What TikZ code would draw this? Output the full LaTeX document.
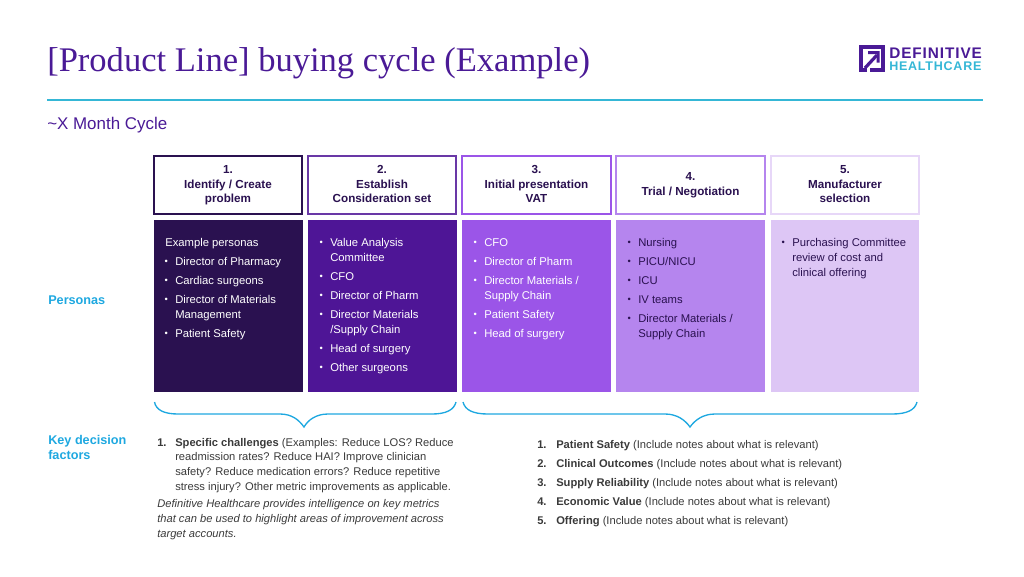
\documentclass[tikz,border=0pt]{standalone}
\usepackage{fontspec}
\setmainfont{Liberation Sans}
\newfontfamily\titlefont{Liberation Serif}
\newfontfamily\logofont[LetterSpace=6]{Liberation Sans}
\definecolor{dhdark}{HTML}{2A1150}
\definecolor{dhdeep}{HTML}{4E1596}
\definecolor{dhmid}{HTML}{9B55E8}
\definecolor{dhsoft}{HTML}{B585EE}
\definecolor{dhpale}{HTML}{DDC6F5}
\definecolor{dhteal}{HTML}{35B7D6}
\definecolor{dhlabel}{HTML}{1EA8E0}
\definecolor{dhtitle}{HTML}{4A1A96}
\definecolor{dhgray}{HTML}{3A3A3A}
\setlength{\lineskiplimit}{-10pt}
\newcommand{\blt}{\llap{\raisebox{0.6pt}{\scriptsize\textbullet}\hspace{5.6pt}}}
\tikzset{
  headbox/.style={line width=1.1pt, fill=white},
  headtxt/.style={anchor=north, align=center, font=\fontsize{8.75}{10.9}\selectfont\bfseries, text=dhdark, inner sep=0pt},
  itemtxt/.style={anchor=west, inner sep=0pt, yshift=-1.4pt, text height=6pt, text depth=2pt, font=\fontsize{8.45}{10}\selectfont},
  keytxt/.style={itemtxt, text=dhgray, font=\fontsize{8.37}{10}\selectfont},
  sidetxt/.style={anchor=west, inner sep=0pt, align=left, text=dhlabel, font=\fontsize{9.5}{11.25}\selectfont\bfseries},
  bracecurve/.style={draw=dhlabel, line width=1pt}
}
\begin{document}
\begin{tikzpicture}[x=0.75pt,y=-0.75pt]
  \useasboundingbox (0,0) rectangle (1024,576);
  % Title and rule
  \node[anchor=base west, inner sep=0pt, text=dhtitle, font=\fontsize{25.9}{30}\titlefont] (title) at (47,71) {[Product Line] buying cycle (Example)};
  \draw[draw=dhteal, line width=1.5pt] (47,99.5) -- (983,99.5);
  \node[anchor=base west, inner sep=0pt, text=dhtitle, font=\fontsize{12.7}{15}\selectfont] (cycle) at (47,129) {\textasciitilde X Month Cycle};
  % Logo
  \draw[dhtitle, line width=2.4pt] (867,70) -- (861,70) -- (861,47) -- (883,47) -- (883,70) -- (870,70);
  \draw[dhtitle, line width=2.4pt] (865,68) -- (877,55);
  \fill[dhtitle] (868,51) -- (879.5,51) -- (879.5,62.5) -- (876.5,62.5) -- (876.5,54) -- (868,54) -- cycle;
  \node[anchor=west, inner sep=0pt, text=dhtitle, font=\fontsize{11.5}{14}\logofont\bfseries] (logotop) at (889,53) {DEFINITIVE};
  \node[anchor=west, inner sep=0pt, text=dhteal, font=\fontsize{9.4}{14}\logofont\bfseries] (logobot) at (889,66) {HEALTHCARE};
  % Step headers
  \draw[headbox, draw=dhdark] (154,156) rectangle (302,214);
  \draw[headbox, draw=dhdeep!85!white] (308,156) rectangle (456,214);
  \draw[headbox, draw=dhmid] (462,156) rectangle (611,214);
  \draw[headbox, draw=dhsoft] (616,156) rectangle (765,214);
  \draw[headbox, draw=dhpale!70!white] (771,156) rectangle (919,214);
  \node[headtxt] (step1) at (228,165.5) {1.\\Identify / Create\\problem};
  \node[headtxt] (step2) at (382,165.5) {2.\\Establish\\Consideration set};
  \node[headtxt] (step3) at (536.5,165.5) {3.\\Initial presentation\\VAT};
  \node[headtxt] (step4) at (690.5,172.5) {4.\\Trial / Negotiation};
  \node[headtxt] (step5) at (845,165.5) {5.\\Manufacturer\\selection};
  % Persona columns
  \fill[dhdark] (154,220) rectangle (303,392);
  \fill[dhdeep] (308,220) rectangle (457,392);
  \fill[dhmid] (462,220) rectangle (611,392);
  \fill[dhsoft] (616,220) rectangle (765,392);
  \fill[dhpale] (771,220) rectangle (919,392);
  \node[sidetxt] (personas) at (48,300.5) {Personas};
  \node[itemtxt, text=white] (colone0) at (165,242) {Example personas};
  \foreach \yy/\txt [count=\i] in {261/Director of Pharmacy, 280/Cardiac surgeons, 299/Director of Materials, 333/Patient Safety}
    \node[itemtxt, text=white] (colone\i) at (175,\yy) {\blt\txt};
  \node[itemtxt, text=white] (colone5) at (175,314) {Management};
  \foreach \yy/\txt [count=\i] in {242/Value Analysis, 276/CFO, 295/Director of Pharm, 314/Director Materials, 348/Head of surgery, 367/Other surgeons}
    \node[itemtxt, text=white] (coltwo\i) at (330,\yy) {\blt\txt};
  \node[itemtxt, text=white] (coltwo7) at (330,257) {Committee};
  \node[itemtxt, text=white] (coltwo8) at (330,329) {/Supply Chain};
  \foreach \yy/\txt [count=\i] in {242/CFO, 261/Director of Pharm, 314/Patient Safety, 333/Head of surgery}
    \node[itemtxt, text=white] (colthree\i) at (484,\yy) {\blt\txt};
  \node[itemtxt, text=white] (colthree5) at (484,280) {\blt Director Materials /};
  \node[itemtxt, text=white] (colthree6) at (484,295) {Supply Chain};
  \foreach \yy/\txt [count=\i] in {242/Nursing, 261/PICU\slash NICU, 280/ICU, 299/IV teams}
    \node[itemtxt, text=dhdark] (colfour\i) at (638,\yy) {\blt\txt};
  \node[itemtxt, text=dhdark] (colfour5) at (638,318) {\blt Director Materials /};
  \node[itemtxt, text=dhdark] (colfour6) at (638,333) {Supply Chain};
  \node[itemtxt, text=dhdark] (colfive1) at (792,242) {\blt Purchasing Committee};
  \node[itemtxt, text=dhdark] (colfive2) at (792,257) {review of cost and};
  \node[itemtxt, text=dhdark] (colfive3) at (792,272) {clinical offering};
  % Braces
  \draw[bracecurve] (154.5,402) .. controls (156,410) and (164,414) .. (178,414) -- (280,414)
    .. controls (292,414) and (299,420) .. (304,427) .. controls (308,420) and (316,414) .. (328,414)
    -- (432,414) .. controls (446,414) and (454,410) .. (456,402);
  \draw[bracecurve] (463,402) .. controls (465,410) and (473,414) .. (488,414) -- (665,414)
    .. controls (677,414) and (685,420) .. (690,427) .. controls (695,420) and (703,414) .. (715,414)
    -- (892,414) .. controls (907,414) and (915,410) .. (917,402);
  % Key decision factors
  \node[sidetxt] (factors) at (48,447.5) {Key decision\\factors};
  \node[keytxt, font=\fontsize{8.37}{10}\selectfont\bfseries] (leftnum) at (157,442) {1.};
  \node[keytxt] (left1) at (175,442) {\textbf{Specific challenges} (Examples: Reduce LOS? Reduce};
  \node[keytxt] (left2) at (175,456) {readmission rates? Reduce HAI? Improve clinician};
  \node[keytxt] (left3) at (175,471) {safety? Reduce medication errors? Reduce repetitive};
  \node[keytxt] (left4) at (175,486) {stress injury? Other metric improvements as applicable.};
  \node[keytxt, font=\fontsize{8.37}{10}\selectfont\itshape] (note1) at (157,503) {Definitive Healthcare provides intelligence on key metrics};
  \node[keytxt, font=\fontsize{8.37}{10}\selectfont\itshape] (note2) at (157,518) {that can be used to highlight areas of improvement across};
  \node[keytxt, font=\fontsize{8.37}{10}\selectfont\itshape] (note3) at (157,533) {target accounts.};
  \foreach \yy/\hd [count=\i] in {444/Patient Safety, 463/Clinical Outcomes, 482/Supply Reliability, 501/Economic Value, 520/Offering}{
    \node[keytxt, font=\fontsize{8.37}{10}\selectfont\bfseries] (rightnum\i) at (537,\yy) {\i.};
    \node[keytxt] (right\i) at (556,\yy) {\textbf{\hd} (Include notes about what is relevant)};
  }
\end{tikzpicture}
\end{document}
